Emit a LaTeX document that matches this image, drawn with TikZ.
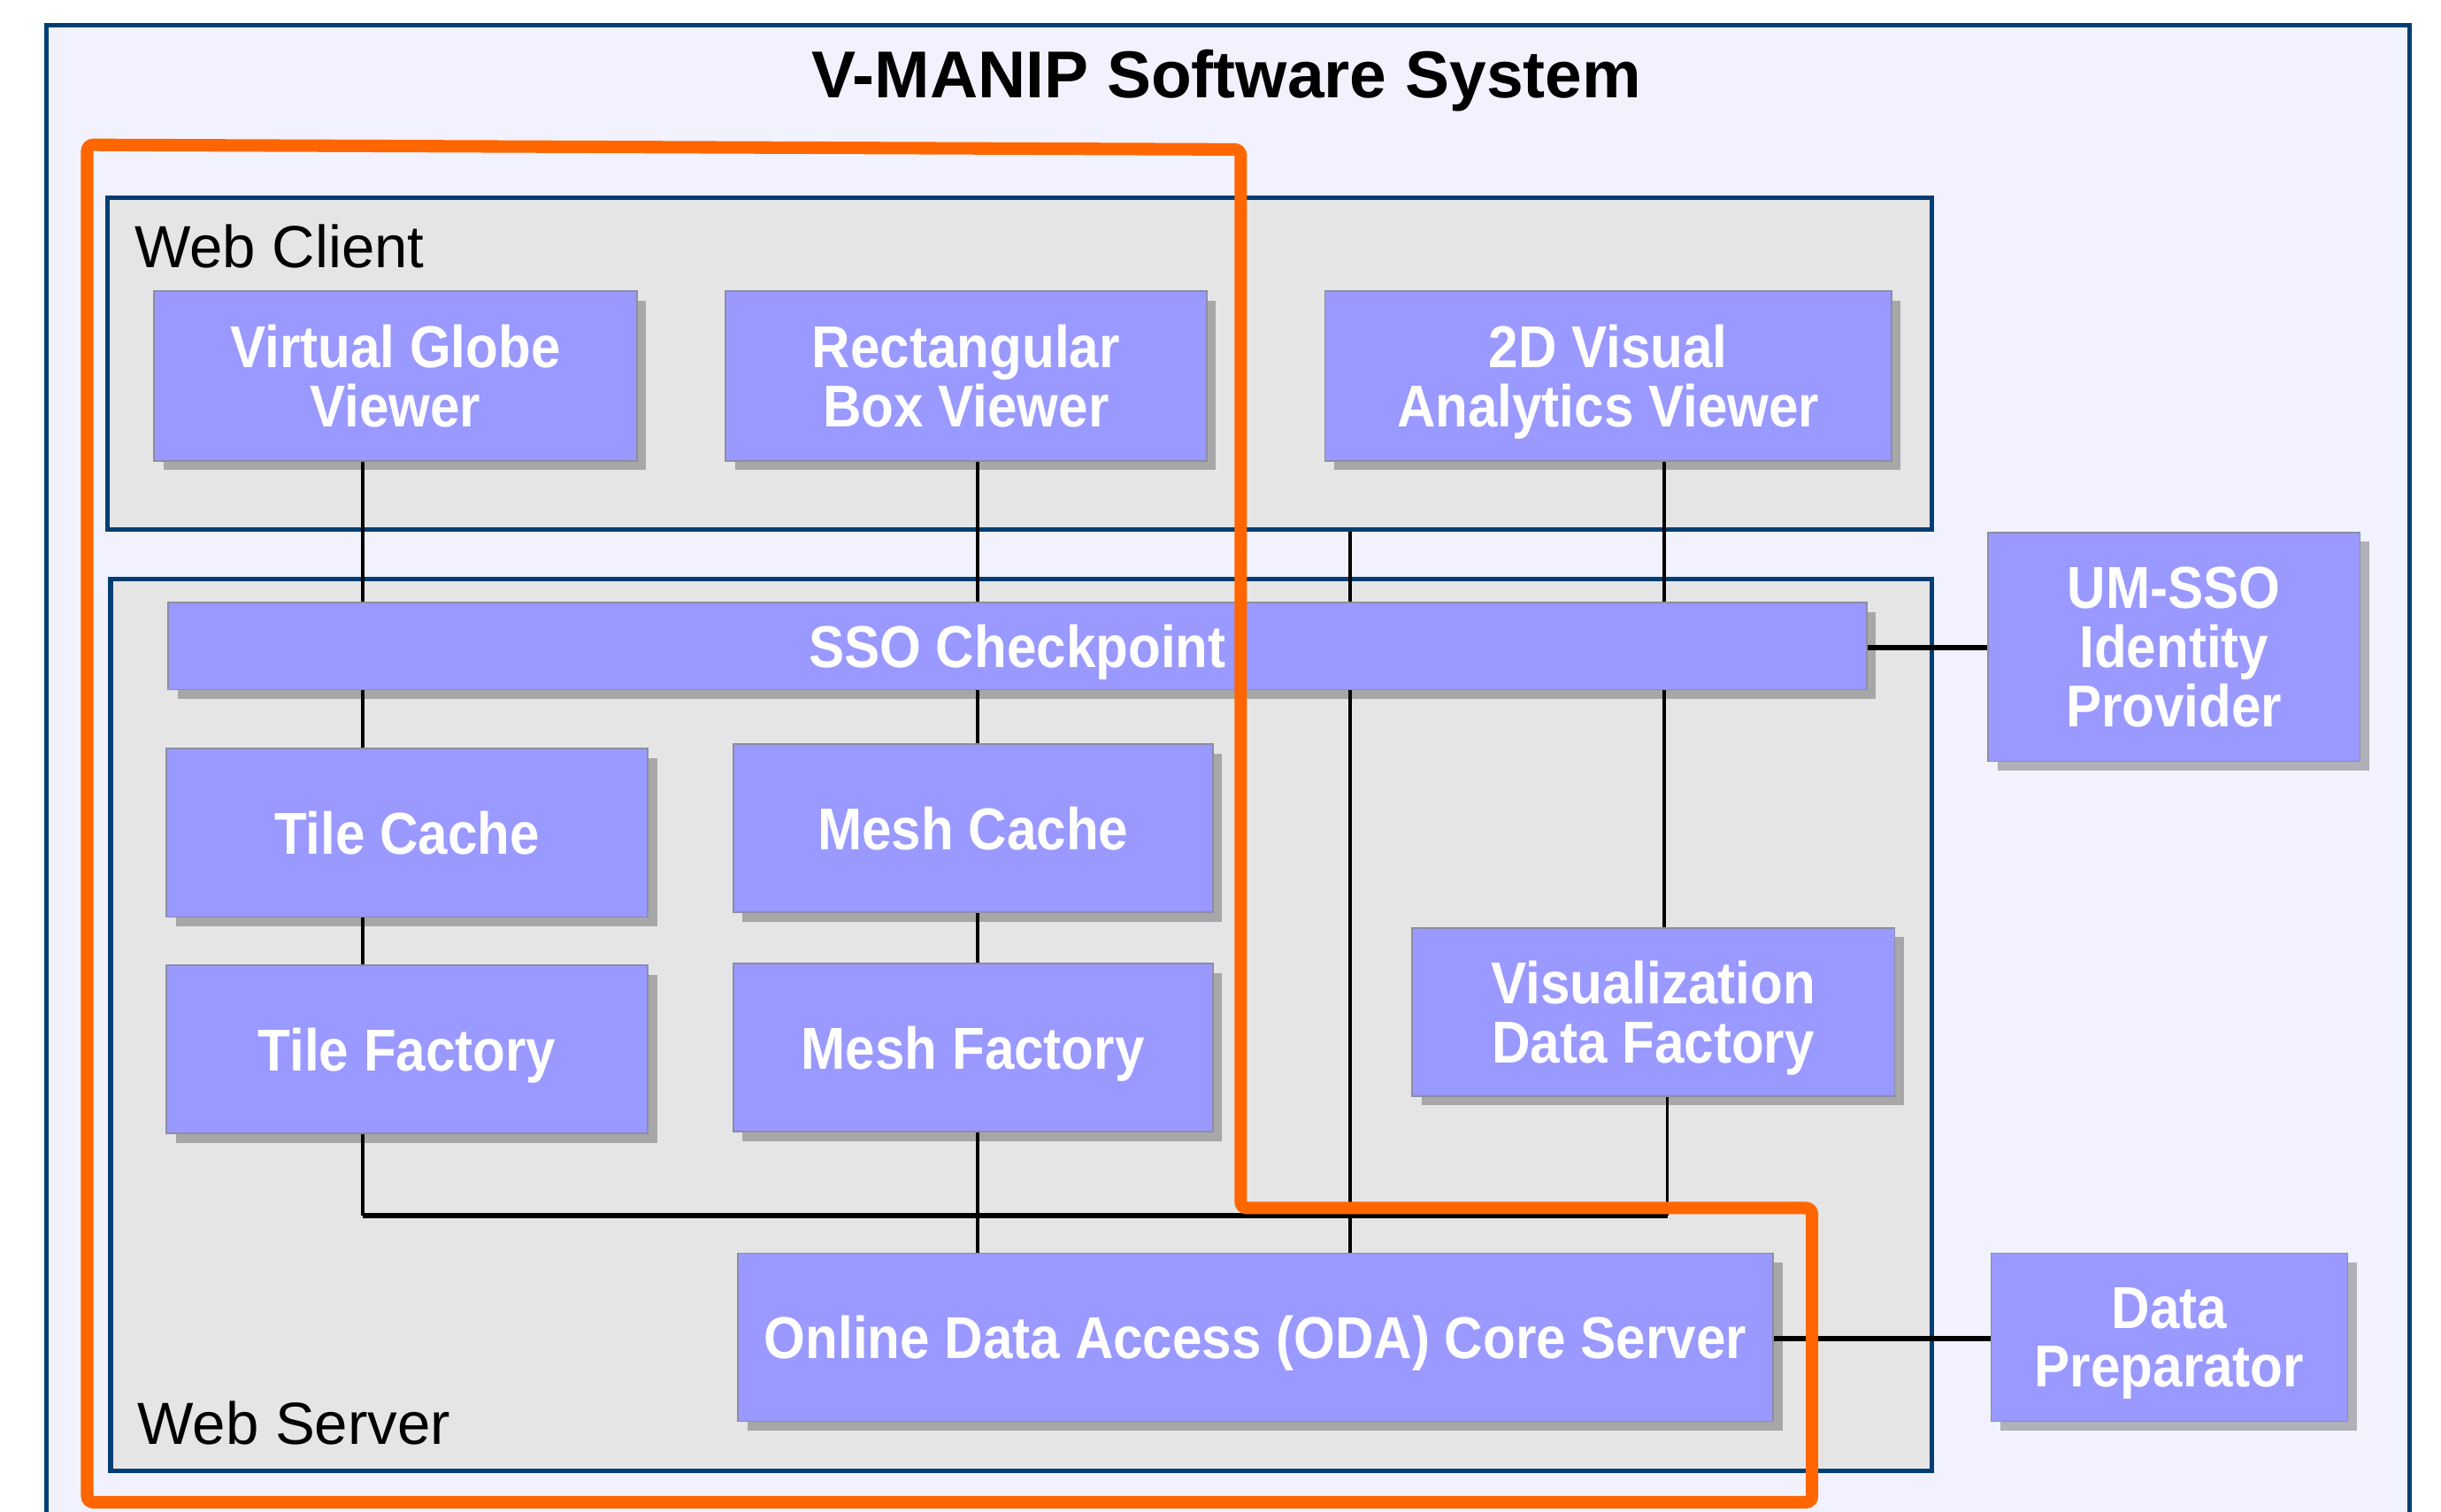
\documentclass[tikz,border=0pt]{standalone}
\usepackage{fontspec}
\setmainfont{Liberation Sans}
\newfontfamily\boxfont[FakeStretch=0.9]{Liberation Sans}
\usetikzlibrary{shadows}
\definecolor{boxfill}{HTML}{9999FF}
\definecolor{boxline}{HTML}{8C8CA8}
\definecolor{outerfill}{HTML}{F1F2FD}
\definecolor{contfill}{HTML}{E5E5E5}
\definecolor{contline}{HTML}{003F73}
\definecolor{orng}{HTML}{FF6600}
\pgfdeclarelayer{back}\pgfdeclarelayer{conn}\pgfdeclarelayer{front}
\pgfsetlayers{back,conn,main,front}
\tikzset{
 comp/.style={rectangle, fill=boxfill, draw=boxline, line width=0.5pt, inner sep=0pt, align=center, text=white,
   font=\boxfont\bfseries\fontsize{19}{19}\selectfont,
   drop shadow={shadow xshift=3pt, shadow yshift=-3pt, fill=black, opacity=0.27}},
 oneline/.style={text depth=0pt},
 cont/.style={rectangle, fill=contfill, draw=contline, line width=1.5pt, inner sep=0pt},
 wire/.style={draw=black, line width=1.1pt},
 thickwire/.style={draw=black, line width=1.6pt},
 zone/.style={draw=orng, line width=4pt, rounded corners=2pt},
 lbl/.style={font=\fontsize{19.1}{19.1}\selectfont, anchor=base west, inner sep=0pt},
}
\begin{document}
\begin{tikzpicture}[x=0.5pt,y=-0.5pt]
\useasboundingbox (0,0) rectangle (1568,971);
\begin{pgfonlayer}{back}
\fill[outerfill] (30,16) rectangle (1548,980);
\draw[contline, line width=1.5pt] (30,980) -- (30,16) -- (1548,16) -- (1548,980);
\node[cont, minimum width=586pt, minimum height=106.5pt] (wc) at (655,233.5) {};
\node[cont, minimum width=585pt, minimum height=286.5pt] (ws) at (656,658.5) {};
\node[lbl] (wclbl) at (86,172) {Web Client};
\node[lbl] (wslbl) at (88,928) {Web Server};
\end{pgfonlayer}
\node[font=\bfseries\fontsize{21.3}{21.3}\selectfont, anchor=base, inner sep=0pt] (title) at (788,63) {V-MANIP Software System};
% components
\node[comp, minimum width=155pt, minimum height=54.5pt] (vg) at (254,241.5) {Virtual Globe\\Viewer};
\node[comp, minimum width=154.5pt, minimum height=54.5pt] (rb) at (620.5,241.5) {Rectangular\\Box Viewer};
\node[comp, minimum width=182pt, minimum height=54.5pt] (vav) at (1033,241.5) {2D Visual\\\smash{Analytics Viewer}};
\node[comp, oneline, minimum width=545.5pt, minimum height=28pt] (sso) at (653.5,415) {SSO Checkpoint};
\node[comp, minimum width=119.5pt, minimum height=73.5pt] (um) at (1396.5,415.5) {UM-SSO\\Identity\\Provider};
\node[comp, oneline, minimum width=154.5pt, minimum height=54pt] (tc) at (261.5,535) {Tile Cache};
\node[comp, oneline, minimum width=154pt, minimum height=54pt] (mc) at (625,532) {Mesh Cache};
\node[comp, oneline, minimum width=154.5pt, minimum height=54pt] (tf) at (261.5,674) {Tile Factory};
\node[comp, oneline, minimum width=154pt, minimum height=54pt] (mf) at (625,673) {Mesh Factory};
\node[comp, minimum width=155pt, minimum height=54pt] (vdf) at (1062,650) {Visualization\\\smash{Data Factory}};
\node[comp, oneline, minimum width=332.5pt, minimum height=54pt] (oda) at (806.5,859) {Online Data Access (ODA) Core Server};
\node[comp, minimum width=114.5pt, minimum height=54pt] (dp) at (1393.5,859) {Data\\\smash{Preparator}};
% connectors
\coordinate (xa) at (233,0);
\coordinate (xb) at (628,0);
\coordinate (xc) at (867,0);
\coordinate (xd) at (1069,0);
\coordinate (xe) at (1071,0);
\coordinate (ybus) at (0,781);
\coordinate (ysso) at (0,416);
\coordinate (yoda) at (0,860);
\begin{pgfonlayer}{conn}
\draw[wire] (vg.south -| xa) -- (tc.north -| xa);
\draw[wire] (tc.south -| xa) -- (tf.north -| xa);
\draw[wire] (tf.south -| xa) -- (xa |- ybus);
\draw[thickwire] (xa |- ybus) -- (xe |- ybus);
\draw[wire] (xe |- ybus) -- (vdf.south -| xe);
\draw[wire] (rb.south -| xb) -- (mc.north -| xb);
\draw[wire] (mc.south -| xb) -- (mf.north -| xb);
\draw[wire] (mf.south -| xb) -- (oda.north -| xb);
\draw[wire] (wc.south -| xc) -- (oda.north -| xc);
\draw[wire] (vav.south -| xd) -- (vdf.north -| xd);
\draw[thickwire] (sso.east |- ysso) -- (um.west |- ysso);
\draw[thickwire] (oda.east |- yoda) -- (dp.west |- yoda);
\end{pgfonlayer}
\begin{pgfonlayer}{front}
\draw[zone] (56,93) -- (797,96) -- (797,776) -- (1164,776) -- (1164,965) -- (56,965) -- cycle;
\end{pgfonlayer}
\end{tikzpicture}
\end{document}
